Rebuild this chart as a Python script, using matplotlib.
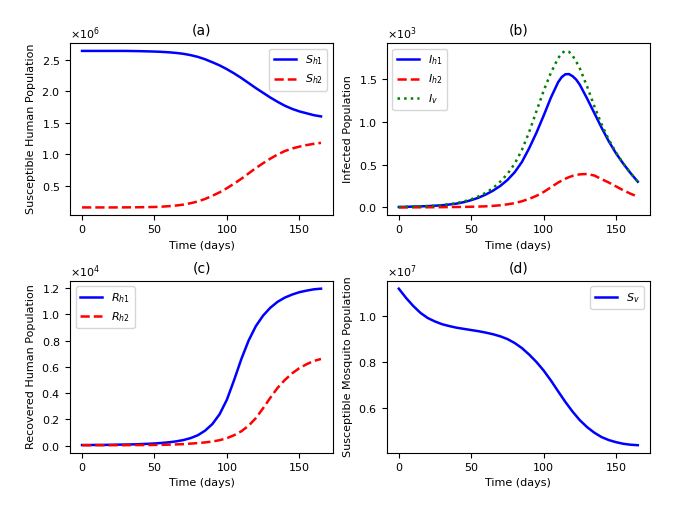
import matplotlib
matplotlib.use("Agg")
import matplotlib.pyplot as plt
from matplotlib.ticker import ScalarFormatter

# values (days; populations in units of the axis offset)
days_a = [0, 5, 10, 15, 20, 25, 30, 35, 40, 45, 50, 55, 60, 65, 70, 75, 80, 85, 90, 95,
          100, 105, 110, 115, 120, 125, 130, 135, 140, 145, 150, 155, 160, 165]
Sh1 = [2.64, 2.64, 2.64, 2.64, 2.64, 2.64, 2.64, 2.638, 2.636, 2.633, 2.63, 2.625, 2.618, 2.608,
       2.594, 2.573, 2.545, 2.507, 2.46, 2.41, 2.35, 2.283, 2.21, 2.13, 2.05, 1.975, 1.90, 1.832,
       1.77, 1.72, 1.68, 1.65, 1.62, 1.60]
Sh2 = [0.155, 0.155, 0.155, 0.155, 0.155, 0.155, 0.156, 0.157, 0.158, 0.16, 0.162, 0.167, 0.175,
       0.185, 0.20, 0.222, 0.25, 0.29, 0.34, 0.395, 0.46, 0.533, 0.61, 0.695, 0.78, 0.857, 0.93,
       0.995, 1.05, 1.09, 1.12, 1.145, 1.165, 1.18]

days_b = [0, 5, 10, 15, 20, 25, 30, 35, 40, 45, 50, 55, 60, 65, 70, 75, 80, 85, 90, 95,
          100, 105, 110, 112.5, 115, 117.5, 120, 122.5, 125, 130, 135, 140, 145, 150, 155, 160, 165]
Ih1 = [0.005, 0.007, 0.01, 0.012, 0.015, 0.02, 0.025, 0.034, 0.045, 0.062, 0.085, 0.113, 0.15,
       0.195, 0.25, 0.32, 0.41, 0.53, 0.69, 0.87, 1.07, 1.28, 1.46, 1.52, 1.553, 1.555, 1.53, 1.49,
       1.43, 1.27, 1.10, 0.93, 0.77, 0.63, 0.51, 0.40, 0.30]
Ih2 = [0.0, 0.0005, 0.001, 0.0015, 0.002, 0.0025, 0.003, 0.004, 0.005, 0.006, 0.008, 0.01, 0.013,
       0.018, 0.025, 0.036, 0.05, 0.072, 0.10, 0.135, 0.18, 0.235, 0.29, 0.313, 0.335, 0.353, 0.368,
       0.378, 0.386, 0.39, 0.372, 0.33, 0.29, 0.245, 0.20, 0.16, 0.125]
Iv = [0.005, 0.007, 0.01, 0.013, 0.016, 0.021, 0.028, 0.038, 0.05, 0.07, 0.095, 0.128, 0.17,
      0.225, 0.30, 0.39, 0.51, 0.67, 0.88, 1.12, 1.36, 1.57, 1.74, 1.80, 1.825, 1.815, 1.77, 1.70,
      1.62, 1.41, 1.18, 0.97, 0.79, 0.64, 0.51, 0.40, 0.30]

days_c = days_a
Rh1 = [0.005, 0.005, 0.006, 0.006, 0.007, 0.008, 0.009, 0.01, 0.012, 0.014, 0.017, 0.021, 0.026,
       0.033, 0.043, 0.058, 0.08, 0.115, 0.165, 0.24, 0.35, 0.50, 0.66, 0.80, 0.91, 0.99, 1.05,
       1.095, 1.127, 1.15, 1.168, 1.18, 1.19, 1.195]
Rh2 = [0.004, 0.004, 0.004, 0.004, 0.004, 0.004, 0.004, 0.005, 0.005, 0.005, 0.006, 0.007, 0.008,
       0.01, 0.012, 0.016, 0.02, 0.025, 0.032, 0.042, 0.057, 0.08, 0.11, 0.152, 0.21, 0.285, 0.365,
       0.44, 0.50, 0.55, 0.59, 0.62, 0.645, 0.66]

days_d = days_a
Sv = [1.117, 1.077, 1.042, 1.012, 0.99, 0.975, 0.963, 0.955, 0.948, 0.943, 0.938, 0.933, 0.927,
      0.92, 0.911, 0.899, 0.882, 0.86, 0.832, 0.80, 0.763, 0.72, 0.673, 0.627, 0.585, 0.548, 0.518,
      0.494, 0.475, 0.462, 0.453, 0.446, 0.442, 0.44]

plt.rcParams['font.size'] = 8

fig, axes = plt.subplots(2, 2, figsize=(6.74, 5.07), dpi=100)
fig.subplots_adjust(left=0.104, right=0.964, bottom=0.1065, top=0.915, wspace=0.205, hspace=0.381)
ax1, ax2, ax3, ax4 = axes.ravel()


def sci(ax):
    fmt = ScalarFormatter(useMathText=True)
    fmt.set_powerlimits((0, 0))
    ax.yaxis.set_major_formatter(fmt)


# (a) susceptible humans
ax1.plot(days_a, [v * 1e6 for v in Sh1], 'b-', lw=1.8, label='$S_{h1}$')
ax1.plot(days_a, [v * 1e6 for v in Sh2], 'r--', lw=1.8, label='$S_{h2}$')
ax1.set_title('(a)', fontsize=10)
ax1.set_xlabel('Time (days)')
ax1.set_ylabel('Susceptible Human Population')
ax1.legend(loc='upper right', fontsize=8)
sci(ax1)

# (b) infected
ax2.plot(days_b, [v * 1e3 for v in Ih1], 'b-', lw=1.8, label='$I_{h1}$')
ax2.plot(days_b, [v * 1e3 for v in Ih2], 'r--', lw=1.8, label='$I_{h2}$')
ax2.plot(days_b, [v * 1e3 for v in Iv], 'g:', lw=1.8, label='$I_{v}$')
ax2.set_title('(b)', fontsize=10)
ax2.set_xlabel('Time (days)')
ax2.set_ylabel('Infected Population')
ax2.legend(loc='upper left', fontsize=8)
sci(ax2)

# (c) recovered
ax3.plot(days_c, [v * 1e4 for v in Rh1], 'b-', lw=1.8, label='$R_{h1}$')
ax3.plot(days_c, [v * 1e4 for v in Rh2], 'r--', lw=1.8, label='$R_{h2}$')
ax3.set_title('(c)', fontsize=10)
ax3.set_xlabel('Time (days)')
ax3.set_ylabel('Recovered Human Population')
ax3.legend(loc='upper left', fontsize=8)
sci(ax3)

# (d) susceptible mosquitoes
ax4.plot(days_d, [v * 1e7 for v in Sv], 'b-', lw=1.8, label='$S_{v}$')
ax4.set_title('(d)', fontsize=10)
ax4.set_xlabel('Time (days)')
ax4.set_ylabel('Susceptible Mosquito Population')
ax4.legend(loc='upper right', fontsize=8)
sci(ax4)

plt.savefig("out.png", dpi=100)
